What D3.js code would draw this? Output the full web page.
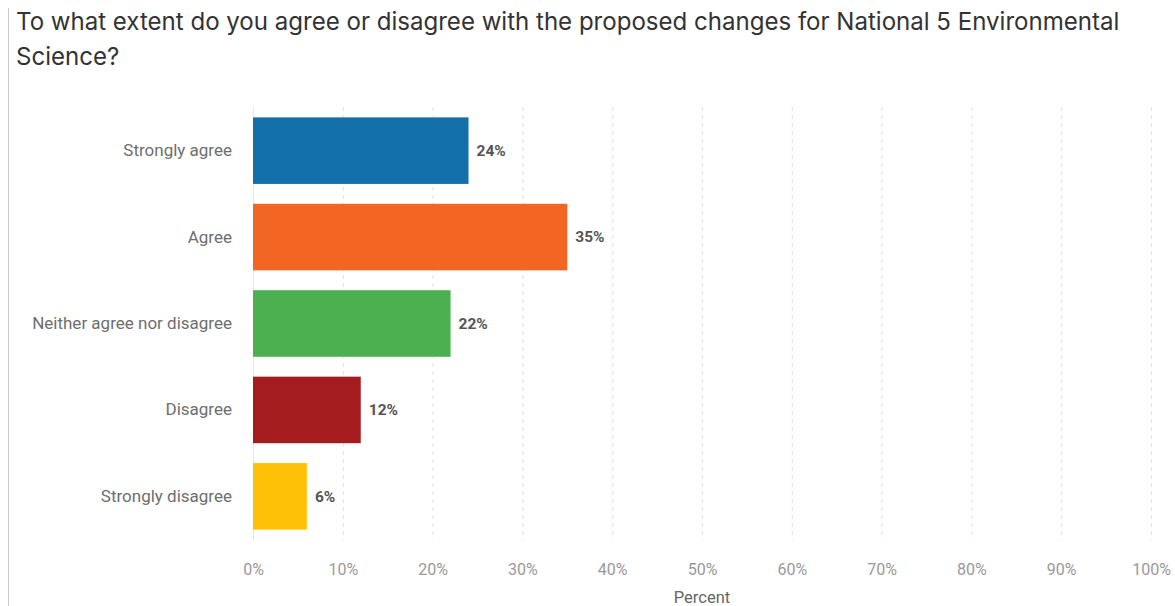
<!DOCTYPE html>
<html><head><meta charset="utf-8">
<script src="https://cdn.jsdelivr.net/npm/d3@7"></script>
<style>body{margin:0;background:#fff;font-family:Roboto,"Noto Sans",Arial,sans-serif;}</style>
</head><body>
<svg id="c" width="1175" height="606"></svg>
<script>
const categories = ["Strongly agree","Agree","Neither agree nor disagree","Disagree","Strongly disagree"];
const values = [24,35,22,12,6];
const colors = ["#1470aa","#f26522","#4caf50","#a51c1f","#ffc107"];
const ticks = [0,10,20,30,40,50,60,70,80,90,100];
const titleLines = ["To what extent do you agree or disagree with the proposed changes for National 5 Environmental","Science?"];

const svg = d3.select("#c");
svg.append("line").attr("x1",8.5).attr("x2",8.5).attr("y1",8).attr("y2",606).attr("stroke","#c8c8c8").attr("stroke-width",1);
const title = svg.append("g").selectAll("text").data(titleLines).join("text")
  .attr("x",16).attr("y",(d,i)=>30+i*35).attr("font-size",23)
  .attr("font-family","Inter,'Liberation Sans',Arial,sans-serif").attr("fill","#333").text(d=>d);
// fit first line to its measured width in the reference layout
const t0 = title.nodes()[0];
const w0 = t0.getComputedTextLength();
if (w0 > 0) { const fs = 23 * 1104 / w0; title.attr("font-size", Math.max(20, Math.min(26, fs))); }

const x = d3.scaleLinear().domain([0,100]).range([253,1151]);
const y = d3.scaleBand().domain(categories).range([107,540]).paddingInner(0.23).paddingOuter(0.12);

const grid = svg.append("g");
grid.selectAll("line").data(ticks.slice(1)).join("line")
  .attr("x1",d=>x(d)+0.5).attr("x2",d=>x(d)+0.5).attr("y1",107).attr("y2",540)
  .attr("stroke","#e0e0e0").attr("stroke-dasharray","4,4");
svg.append("line").attr("x1",x(0)+0.5).attr("x2",x(0)+0.5).attr("y1",107).attr("y2",540).attr("stroke","#e3e6f2");

svg.append("g").selectAll("rect").data(values).join("rect")
  .attr("x",x(0)).attr("y",(d,i)=>y(categories[i])).attr("width",d=>x(d)-x(0)).attr("height",y.bandwidth())
  .attr("fill",(d,i)=>colors[i]);

svg.append("g").selectAll("text").data(values).join("text")
  .attr("x",d=>x(d)+8).attr("y",(d,i)=>y(categories[i])+y.bandwidth()/2).attr("dy","0.35em")
  .attr("font-size",15.5).attr("font-weight","bold").attr("fill","#555").text(d=>d+"%");

const yAxis = d3.axisLeft(y).tickSize(0).tickPadding(21);
const ya = svg.append("g").attr("transform",`translate(${x(0)},0)`).call(yAxis);
ya.select(".domain").remove();
ya.selectAll("text").attr("font-size",17).attr("fill","#6e6e6e").attr("font-family","Roboto,sans-serif");

const xAxis = d3.axisBottom(x).tickValues(ticks).tickFormat(d=>d+"%").tickSize(0).tickPadding(0);
const xa = svg.append("g").attr("transform","translate(0,564)").call(xAxis);
xa.select(".domain").remove();
xa.selectAll("text").attr("font-size",16).attr("fill","#999").attr("font-family","Roboto,sans-serif");

svg.append("text").attr("x",(x(0)+x(100))/2).attr("y",603).attr("text-anchor","middle")
  .attr("font-size",16.5).attr("fill","#666").text("Percent");
</script>
</body></html>
